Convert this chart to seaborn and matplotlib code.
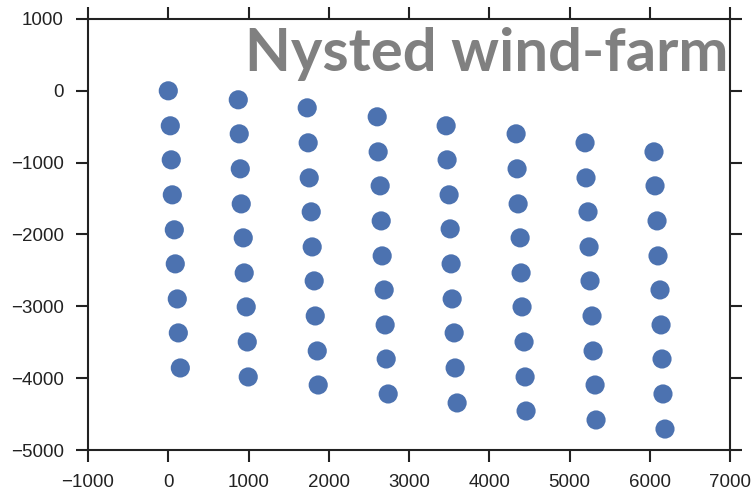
import numpy as np
import pandas as pd
import matplotlib
matplotlib.use('Agg')
import matplotlib.pyplot as plt
import seaborn as sns

# turbine positions (m), 8 rows of 9
x_pos = [0, 25, 37, 50, 75, 87, 112, 125, 150,
         872, 884, 897, 909, 934, 946, 971, 984, 996,
         1731, 1743, 1756, 1781, 1793, 1818, 1831, 1856, 1868,
         2603, 2615, 2640, 2653, 2665, 2690, 2702, 2715, 2740,
         3462, 3474, 3499, 3512, 3524, 3537, 3562, 3574, 3599,
         4334, 4346, 4359, 4384, 4396, 4408, 4433, 4446, 4458,
         5193, 5205, 5230, 5243, 5255, 5280, 5293, 5318, 5330,
         6052, 6065, 6090, 6102, 6127, 6140, 6152, 6164, 6189]
y_pos = [0, -487, -961, -1448, -1935, -2409, -2897, -3370, -3858,
         -125, -599, -1086, -1574, -2047, -2535, -3008, -3496, -3983,
         -237, -724, -1212, -1685, -2173, -2646, -3134, -3621, -4095,
         -362, -850, -1323, -1811, -2298, -2772, -3259, -3733, -4220,
         -487, -961, -1448, -1922, -2409, -2897, -3370, -3858, -4345,
         -599, -1086, -1574, -2047, -2535, -3008, -3496, -3983, -4457,
         -724, -1212, -1685, -2173, -2646, -3134, -3621, -4095, -4582,
         -850, -1323, -1811, -2298, -2772, -3259, -3733, -4220, -4708]
title = 'Nysted wind-farm'

df = pd.DataFrame({'x': x_pos, 'y': y_pos})

sns.set_style('ticks')
plt.rcParams['font.family'] = ['Liberation Sans', 'DejaVu Sans']

fig = plt.figure(figsize=(7.55, 4.93), dpi=100)
ax = fig.add_axes([0.1166, 0.0872, 0.967 - 0.1166, 0.9615 - 0.0872])
sns.scatterplot(data=df, x='x', y='y', ax=ax, s=190, color='#4C72B0',
                edgecolor='none', linewidth=0)
ax.set_xlim(-1000, 7000)
ax.set_ylim(-5000, 1000)
ax.set_xlabel('')
ax.set_ylabel('')
for sp in ax.spines.values():
    sp.set_linewidth(1.5)
    sp.set_color('#222222')
ax.tick_params(axis='both', which='both', direction='out', length=8.5, width=1.5,
               color='#222222', labelsize=13.5, top=True, right=True, pad=9,
               labeltop=False, labelright=False, labelcolor='#222222')
ax.text(0.997, 0.982, title, transform=ax.transAxes, ha='right', va='top',
        fontsize=43, fontweight='bold', color='#808080', family=['Lato', 'DejaVu Sans'])
fig.savefig('out.png', dpi=100)
